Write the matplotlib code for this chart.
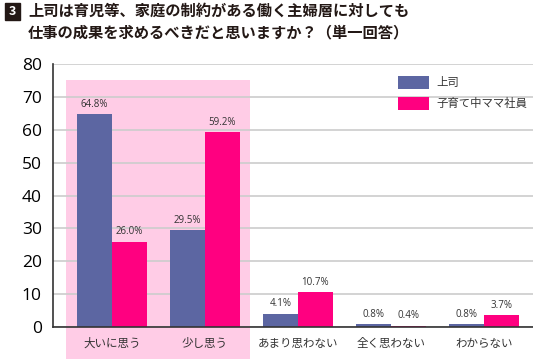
import numpy as np
import matplotlib.pyplot as plt
from matplotlib.patches import Rectangle

plt.rcParams['font.family'] = ['Noto Sans CJK JP', 'DejaVu Sans']

categories = ["大いに思う", "少し思う", "あまり思わない", "全く思わない", "わからない"]
series_names = ["上司", "子育て中ママ社員"]
boss = [64.8, 29.5, 4.1, 0.8, 0.8]
moms = [26.0, 59.2, 10.7, 0.4, 3.7]
colors = ["#5c66a2", "#ff0080"]
highlight = "#ffcce6"

title_line1 = "上司は育児等、家庭の制約がある働く主婦層に対しても"
title_line2 = "仕事の成果を求めるべきだと思いますか？（単一回答）"

fig = plt.figure(figsize=(5.33, 3.59), dpi=100)
ax = fig.add_axes([0.0994, 0.0891, 0.9006, 0.7326])

x = np.arange(len(categories))
w = 0.375

# highlighted first two categories
ax.axvspan(-0.495, 1.485, ymin=-0.13, ymax=75 / 80, color=highlight,
           clip_on=False, zorder=0, lw=0)

b1 = ax.bar(x - w / 2, boss, w, color=colors[0], label=series_names[0], zorder=3)
b2 = ax.bar(x + w / 2, moms, w, color=colors[1], label=series_names[1], zorder=3)

for bars, vals in ((b1, boss), (b2, moms)):
    for r, v in zip(bars, vals):
        ax.text(r.get_x() + r.get_width() / 2, v + 1.3, f"{v:.1f}%",
                ha="center", va="bottom", fontsize=7, color="#333333",
                family=["Open Sans", "DejaVu Sans"], zorder=4)

ax.set_xlim(-0.634, 4.527)
ax.set_ylim(0, 80)
ax.set_yticks(range(0, 81, 10))
ax.set_xticks(x)
ax.set_xticklabels(categories, fontsize=8.3, color="#333333")
for lab in ax.get_yticklabels():
    lab.set_family(["Open Sans", "DejaVu Sans"])
    lab.set_fontsize(12.5)
ax.tick_params(axis="y", length=0, pad=8)
ax.tick_params(axis="x", length=0, pad=7)
ax.yaxis.grid(True, color="#cccccc", lw=1.2, zorder=1)
ax.set_axisbelow(True)
ax.patch.set_alpha(0)
for s in ("top", "right"):
    ax.spines[s].set_visible(False)
ax.spines["left"].set_color("#333333")
ax.spines["bottom"].set_color("#333333")
ax.spines["left"].set_linewidth(1.2)
ax.spines["bottom"].set_linewidth(1.2)
ax.spines["left"].set_zorder(5)
ax.spines["bottom"].set_zorder(5)

leg = ax.legend(loc="upper left", bbox_to_anchor=(0.719, 0.955), frameon=False,
                fontsize=8.2, handlelength=2.75, handleheight=1.35,
                labelspacing=0.75, handletextpad=0.65, borderpad=0,
                borderaxespad=0)
for t in leg.get_texts():
    t.set_color("#333333")

# title with number badge
fig.patches.append(Rectangle((5 / 533, 1 - 20 / 359), 15 / 533, 17 / 359,
                             transform=fig.transFigure, color="#231815",
                             figure=fig))
fig.text(12.5 / 533, 1 - 11.5 / 359, "3", color="white", fontsize=9,
         fontweight="bold", ha="center", va="center")
fig.text(28 / 533, 1 - 11 / 359, title_line1, fontsize=11.0, fontweight="bold",
         ha="left", va="center", color="#231815")
fig.text(28 / 533, 1 - 32 / 359, title_line2, fontsize=11.0, fontweight="bold",
         ha="left", va="center", color="#231815")

fig.savefig("out.png", dpi=100)
